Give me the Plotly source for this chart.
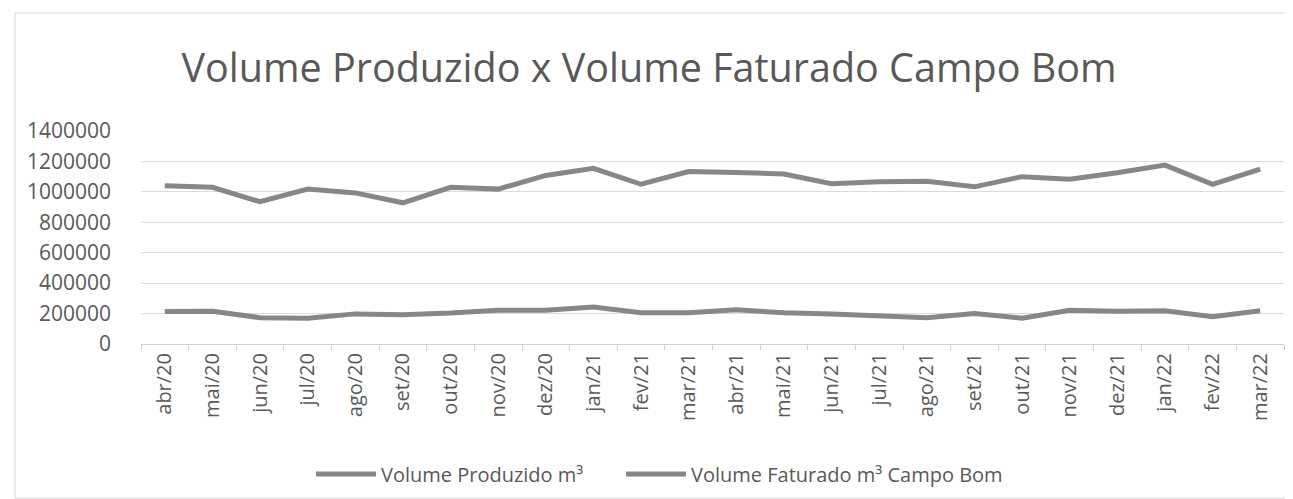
import plotly.graph_objects as go

months = ["abr/20", "mai/20", "jun/20", "jul/20", "ago/20", "set/20", "out/20", "nov/20",
          "dez/20", "jan/21", "fev/21", "mar/21", "abr/21", "mai/21", "jun/21", "jul/21",
          "ago/21", "set/21", "out/21", "nov/21", "dez/21", "jan/22", "fev/22", "mar/22"]

vol_produzido = [1040000, 1030000, 935000, 1018000, 993000, 928000, 1030000, 1018000,
                 1108000, 1155000, 1050000, 1133000, 1128000, 1117000, 1054000, 1067000,
                 1070000, 1033000, 1100000, 1083000, 1125000, 1176000, 1049000, 1150000]

vol_faturado = [213000, 215000, 173000, 170000, 198000, 192000, 203000, 222000,
                222000, 243000, 205000, 205000, 225000, 205000, 197000, 188000,
                172000, 200000, 170000, 222000, 215000, 218000, 180000, 218000]

y_ticks = [0, 200000, 400000, 600000, 800000, 1000000, 1200000, 1400000]

title_text = "Volume Produzido x Volume Faturado Campo Bom"
name_prod = "Volume Produzido m³"
name_fat = "Volume Faturado m³ Campo Bom"

W, H = 1293, 499
L, R, T, B = 133, 17, 123, 163
pw, ph = W - L - R, H - T - B

line_color = "#878787"
text_color = "#595959"
font_family = "Open Sans"

fig = go.Figure()
fig.add_trace(go.Scatter(x=months, y=vol_produzido, mode="lines", name=name_prod,
                         line=dict(color=line_color, width=5), legend="legend"))
fig.add_trace(go.Scatter(x=months, y=vol_faturado, mode="lines", name=name_fat,
                         line=dict(color=line_color, width=5), legend="legend2"))

def px_x(x):
    return (x - L) / pw

def px_y(y):
    return (H - B - y) / ph

legend_common = dict(orientation="h", xanchor="left", y=px_y(466), yanchor="middle",
                     font=dict(family=font_family, size=20, color=text_color),
                     itemwidth=60, bgcolor="rgba(0,0,0,0)")

fig.update_layout(
    width=W, height=H,
    margin=dict(l=L, r=R, t=T, b=B),
    paper_bgcolor="white", plot_bgcolor="white",
    font=dict(family=font_family, color=text_color),
    title=dict(text=title_text, x=641 / W, xref="container", xanchor="center",
               y=1 - 60 / H, yref="container", yanchor="middle",
               font=dict(family=font_family, size=39.5, color=text_color)),
    showlegend=True,
    legend=dict(x=px_x(318 - 15), **legend_common),
    legend2=dict(x=px_x(628 - 15), **legend_common),
    shapes=[dict(type="rect", xref="paper", yref="paper",
                 x0=px_x(7), x1=px_x(1287), y0=px_y(490), y1=px_y(5),
                 line=dict(color="#d4d4d4", width=1), fillcolor="rgba(0,0,0,0)", layer="below")],
)

fig.update_xaxes(type="category", tickangle=-90, tickson="boundaries", ticks="outside",
                 ticklen=5, tickcolor="#d0d0d0", showgrid=False, showline=True,
                 linecolor="#d0d0d0", linewidth=1, zeroline=False,
                 tickfont=dict(family=font_family, size=20, color=text_color),
                 range=[-0.5, len(months) - 0.5])
fig.update_yaxes(range=[0, 1400000], tickvals=y_ticks, ticktext=[str(v) for v in y_ticks],
                 showgrid=True, gridcolor="#dcdcdc", gridwidth=1, zeroline=False,
                 showline=False, ticks="", ticklabelstandoff=29,
                 tickfont=dict(family=font_family, size=21, color=text_color))

fig.write_html("out.html")
